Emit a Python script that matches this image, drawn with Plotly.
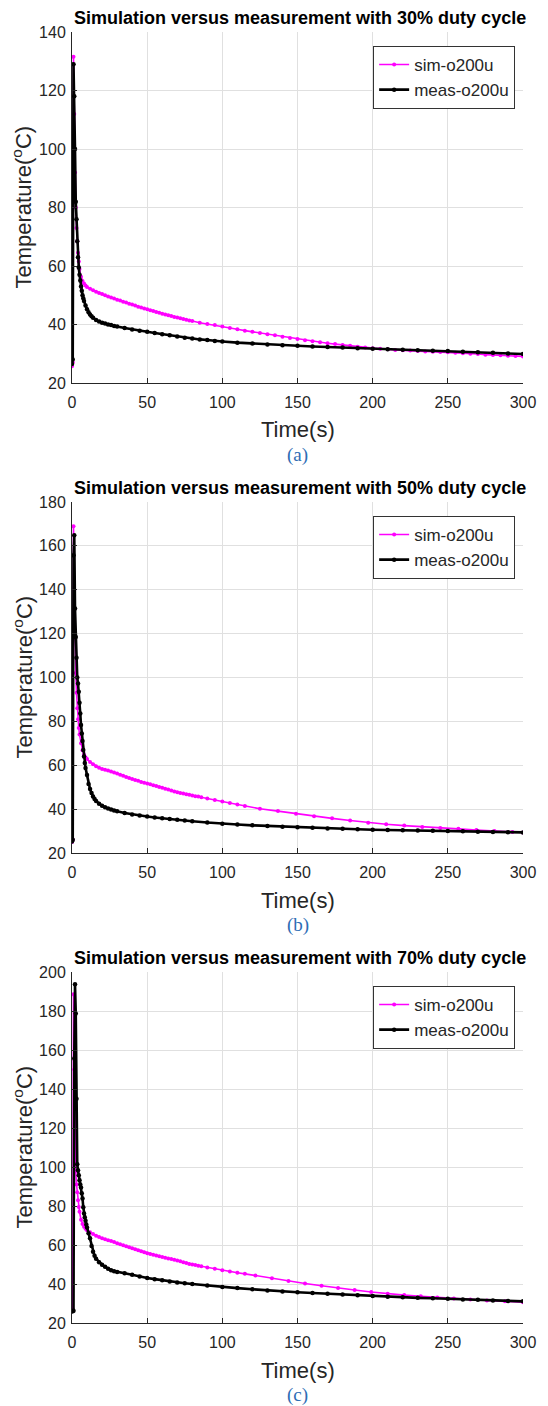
import plotly.graph_objects as go

# ---------------- data ----------------
titles = ["Simulation versus measurement with 30% duty cycle",
          "Simulation versus measurement with 50% duty cycle",
          "Simulation versus measurement with 70% duty cycle"]
panel_labels = ["(a)", "(b)", "(c)"]
y_ranges = [[20, 140], [20, 180], [20, 200]]
x_ticks = [0, 50, 100, 150, 200, 250, 300]

# panel (a) 30% duty cycle
sim_a_t = [0, 0.5, 1, 1.5, 2, 2.5, 3, 3.5, 4, 4.5, 5, 6, 7, 8, 9, 10,
           12, 14, 16, 18, 20, 22, 24, 26, 28, 30, 32, 34, 36, 38, 40, 42, 44, 46, 48, 50,
           52, 54, 56, 58, 60, 62, 64, 66, 68, 70, 72, 74, 76, 78, 80,
           85, 90, 95, 100, 105, 110, 115, 120, 125, 130, 135, 140, 145, 150, 155, 160,
           165, 170, 175, 180, 185, 190, 195, 200, 205, 210, 215, 220, 225, 230, 235, 240,
           245, 250, 255, 260, 265, 270, 275, 280, 285, 290, 295, 300]
sim_a_y = [25.7, 27, 131.5, 112, 92, 80, 73, 68.5, 64.5, 61.5, 59, 56.3, 54.9, 54, 53.3, 52.8,
           52.2, 51.7, 51.2, 50.8, 50.4, 50.0, 49.6, 49.2, 48.9, 48.5, 48.2, 47.8, 47.5, 47.1, 46.8, 46.5, 46.1, 45.8, 45.5, 45.2,
           44.9, 44.6, 44.3, 44.0, 43.7, 43.4, 43.2, 42.9, 42.6, 42.4, 42.1, 41.9, 41.6, 41.4, 41.2,
           40.6, 40.2, 39.8, 39.3, 38.8, 38.4, 37.9, 37.5, 37.1, 36.7, 36.3, 35.8, 35.4, 35.0, 34.6, 34.3,
           33.9, 33.6, 33.3, 33.0, 32.7, 32.4, 32.1, 31.9, 31.7, 31.5, 31.3, 31.2, 31.1, 30.9, 30.8, 30.7,
           30.6, 30.5, 30.3, 30.2, 30.0, 29.9, 29.7, 29.6, 29.5, 29.3, 29.2, 29.1]
meas_a_t = [0, 0.5, 1, 1.5, 2, 2.5, 3, 3.5, 4, 4.5, 5, 5.5, 6, 6.5, 7, 7.5, 8, 9, 10, 11, 12, 13, 14,
            16, 18, 20, 22, 24, 26, 28, 30, 35, 40, 45, 50, 55, 60, 65, 70, 75, 80, 85, 90, 95, 100,
            110, 120, 130, 140, 150, 160, 170, 180, 190, 200, 210, 220, 230, 240, 250, 260, 270, 280, 290, 300]
meas_a_y = [26.5, 28, 129, 118, 100, 82, 76, 68.5, 63, 59.5, 57, 55, 53, 51.5, 50, 49, 48, 46.5, 45.2, 44.2, 43.4, 42.8, 42.3,
            41.5, 41.0, 40.6, 40.3, 40.0, 39.8, 39.5, 39.3, 38.8, 38.3, 37.9, 37.5, 37.1, 36.7, 36.3, 35.9, 35.5, 35.2, 34.9, 34.7, 34.4, 34.2,
            33.8, 33.5, 33.2, 32.9, 32.7, 32.5, 32.3, 32.1, 31.9, 31.7, 31.5, 31.4, 31.2, 31.0, 30.9, 30.7, 30.5, 30.3, 30.1, 29.9]

# panel (b) 50% duty cycle
sim_b_t = [0, 0.5, 1, 1.5, 2, 2.5, 3, 3.5, 4, 4.5, 5, 6, 7, 8, 9, 10,
           12, 14, 16, 18, 20, 22, 24, 26, 28, 30, 32, 34, 36, 38, 40, 42, 44, 46, 48, 50,
           52, 54, 56, 58, 60, 62, 64, 66, 68, 70, 72, 74, 76, 78, 80, 82, 84, 86,
           90, 95, 100, 105, 110, 115, 125, 137, 149, 161, 173, 185, 197, 209, 221, 233,
           245, 257, 269, 281, 293, 300]
sim_b_y = [25, 26, 169, 140, 118, 102, 93, 86, 81, 77, 74, 70, 66.8, 64.8, 63.6, 62.8,
           61.5, 60.5, 59.6, 58.9, 58.3, 57.9, 57.6, 57.2, 56.7, 56.2, 55.7, 55.2, 54.6, 54.2, 53.7, 53.3, 52.9, 52.4, 52.0, 51.7,
           51.3, 50.9, 50.5, 50.1, 49.7, 49.3, 48.9, 48.5, 48.0, 47.7, 47.4, 47.1, 46.8, 46.5, 46.2, 45.9, 45.7, 45.4,
           44.9, 44.2, 43.5, 42.8, 42.1, 41.4, 40.2, 39.1, 37.9, 36.8, 35.8, 34.8, 33.8, 33.1, 32.5, 31.9,
           31.4, 31.0, 30.5, 30.0, 29.6, 29.4]
meas_b_t = [0, 0.5, 1, 1.5, 2, 2.5, 3, 3.5, 4, 4.5, 5, 5.5, 6, 6.5, 7, 7.5, 8, 8.5, 9, 10, 11, 12, 13, 14, 15, 16,
            18, 20, 22, 24, 26, 28, 30, 35, 40, 45, 50, 55, 60, 65, 70, 75, 80, 90, 100,
            110, 120, 130, 140, 150, 160, 170, 180, 190, 200, 210, 220, 230, 240, 250, 260, 270, 280, 290, 300]
meas_b_y = [25.2, 26, 155.7, 164.8, 131.4, 118.5, 109, 100, 97.3, 93.5, 88.5, 83.6, 78.3, 74.5, 71, 67, 64, 61, 58.8, 55.5, 51.5, 49.2, 47.3, 45.8, 44.6, 43.7,
            42.4, 41.5, 40.8, 40.3, 39.8, 39.4, 39.0, 38.2, 37.6, 37.1, 36.6, 36.2, 35.8, 35.5, 35.1, 34.8, 34.5, 33.9, 33.3,
            33.0, 32.6, 32.3, 32.0, 31.7, 31.5, 31.2, 31.0, 30.8, 30.6, 30.5, 30.4, 30.2, 30.1, 30.0, 29.9, 29.7, 29.6, 29.5, 29.4]

# panel (c) 70% duty cycle
sim_c_t = [0, 0.5, 1, 1.5, 2, 2.5, 3, 3.5, 4, 4.5, 5, 6, 7, 8, 9, 10,
           12, 14, 16, 18, 20, 22, 24, 26, 28, 30, 32, 34, 36, 38, 40, 42, 44, 46, 48, 50,
           52, 54, 56, 58, 60, 62, 64, 66, 68, 70, 72, 74, 76, 78, 80, 82, 84, 86,
           90, 95, 100, 105, 110, 115, 122, 133, 144, 155, 166, 177, 188, 199, 210, 221,
           232, 243, 254, 265, 276, 288, 300]
sim_c_y = [26, 27, 188.6, 150, 120, 98, 91, 87, 83, 79.5, 77, 73, 70.8, 69.3, 68.3, 67.6,
           66.5, 65.6, 64.8, 64.1, 63.4, 62.9, 62.5, 62.0, 61.5, 60.9, 60.4, 59.9, 59.3, 58.8, 58.3, 57.8, 57.3, 56.8, 56.3, 55.8,
           55.4, 55.0, 54.6, 54.2, 53.8, 53.4, 53.1, 52.8, 52.4, 52.1, 51.7, 51.2, 50.8, 50.3, 50.0, 49.7, 49.4, 49.1,
           48.5, 47.8, 47.0, 46.4, 45.8, 45.2, 44.3, 43.0, 41.6, 40.3, 39.1, 37.9, 36.9, 35.9, 35.0, 34.3,
           33.7, 33.1, 32.6, 32.1, 31.6, 31.1, 30.7]
meas_c_t = [0, 0.5, 1, 1.5, 2, 2.5, 3, 3.5, 4, 4.5, 5, 5.5, 6, 6.5, 7, 7.5, 8, 8.5, 9, 9.5, 10, 11, 12, 13, 14, 15, 16,
            18, 20, 22, 24, 26, 28, 30, 35, 40, 45, 50, 55, 60, 65, 70, 75, 80, 90, 100,
            110, 120, 130, 140, 150, 160, 170, 180, 190, 200, 210, 220, 230, 240, 250, 260, 270, 280, 290, 300]
meas_c_y = [26, 26, 26.3, 155.6, 193.7, 178.7, 135, 101.4, 98.3, 95.8, 93.2, 91, 89.5, 86.5, 83.9, 79.3, 76.2, 74.2, 72.5, 70.5, 69, 66, 63.5, 59.5, 56.5, 54.5, 53,
            51.2, 49.9, 48.8, 47.8, 47.1, 46.6, 46.2, 45.5, 44.7, 43.8, 43.1, 42.5, 41.9, 41.3, 40.8, 40.4, 40.0, 39.2, 38.5,
            37.9, 37.3, 36.7, 36.2, 35.8, 35.4, 35.0, 34.6, 34.2, 33.8, 33.5, 33.2, 32.9, 32.7, 32.4, 32.1, 31.9, 31.6, 31.3, 31.1]

sim_series = [(sim_a_t, sim_a_y), (sim_b_t, sim_b_y), (sim_c_t, sim_c_y)]
meas_series = [(meas_a_t, meas_a_y), (meas_b_t, meas_b_y), (meas_c_t, meas_c_y)]

# ---------------- layout helpers ----------------
W, H = 548, 1406
ML, MR, MT, MB = 72, 17, 32, 83
plot_h = H - MT - MB
panel_px = [(32, 383), (502, 853), (972, 1323)]   # top, bottom in px


def py2paper(py):
    return (H - MB - py) / plot_h


FONT = "Arial, Liberation Sans, sans-serif"
TXT = "#262626"
GRID = "#e0e0e0"

fig = go.Figure()
annotations = []
for i in range(3):
    sfx = "" if i == 0 else str(i + 1)
    xa, ya = "x" + sfx, "y" + sfx
    leg = "legend" + sfx
    st, sy = sim_series[i]
    mt, my = meas_series[i]
    fig.add_trace(go.Scatter(x=st, y=sy, name="sim-o200u", mode="lines+markers",
                             line=dict(color="#FF00FF", width=1.6),
                             marker=dict(color="#FF00FF", size=4),
                             xaxis=xa, yaxis=ya, legend=leg))
    fig.add_trace(go.Scatter(x=mt, y=my, name="meas-o200u", mode="lines+markers",
                             line=dict(color="#000000", width=2.6),
                             marker=dict(color="#000000", size=4.5),
                             xaxis=xa, yaxis=ya, legend=leg))
    top, bot = panel_px[i]
    dom = [py2paper(bot), py2paper(top)]
    axcommon = dict(showgrid=True, gridcolor=GRID, gridwidth=1,
                    showline=True, linecolor=TXT, linewidth=1, mirror=False,
                    ticks="inside", ticklen=5, tickcolor=TXT, zeroline=False,
                    tickfont=dict(family=FONT, size=16, color=TXT))
    fig.update_layout(**{
        "xaxis" + sfx: dict(domain=[0, 1], range=[0, 300], tickvals=x_ticks,
                            anchor=ya, ticklabelstandoff=5, **axcommon),
        "yaxis" + sfx: dict(domain=dom, range=y_ranges[i], dtick=20,
                            anchor=xa, ticklabelstandoff=2, **axcommon),
        leg: dict(x=(523 - ML) / (W - ML - MR), xanchor="right",
                  y=py2paper(top + 14), yanchor="top",
                  bgcolor="white", bordercolor="#333333", borderwidth=1,
                  font=dict(family=FONT, size=17, color=TXT),
                  tracegroupgap=0, itemwidth=30),
    })
    xd, yd = xa + " domain", ya + " domain"
    annotations += [
        dict(text="<b>" + titles[i] + "</b>", x=0.505, y=1, xref=xd, yref=yd,
             xanchor="center", yanchor="middle", yshift=14, showarrow=False,
             font=dict(family=FONT, size=18, color="black")),
        dict(text="Time(s)", x=0.5, y=0, xref=xd, yref=yd, xanchor="center",
             yanchor="middle", yshift=-47, showarrow=False,
             font=dict(family=FONT, size=22, color=TXT)),
        dict(text="Temperature(<sup>o</sup>C)", x=0, y=0.5, xref=xd, yref=yd,
             xanchor="center", yanchor="middle", xshift=-50, textangle=-90,
             showarrow=False, font=dict(family=FONT, size=22, color=TXT)),
        dict(text=panel_labels[i], x=0.5, y=0, xref=xd, yref=yd, xanchor="center",
             yanchor="middle", yshift=-72, showarrow=False,
             font=dict(family="Liberation Serif, Times New Roman, serif", size=19,
                       color="#2E6DB4")),
    ]

fig.update_layout(width=W, height=H, margin=dict(l=ML, r=MR, t=MT, b=MB),
                  paper_bgcolor="white", plot_bgcolor="white",
                  showlegend=True, annotations=annotations)
fig.write_html("out.html")
